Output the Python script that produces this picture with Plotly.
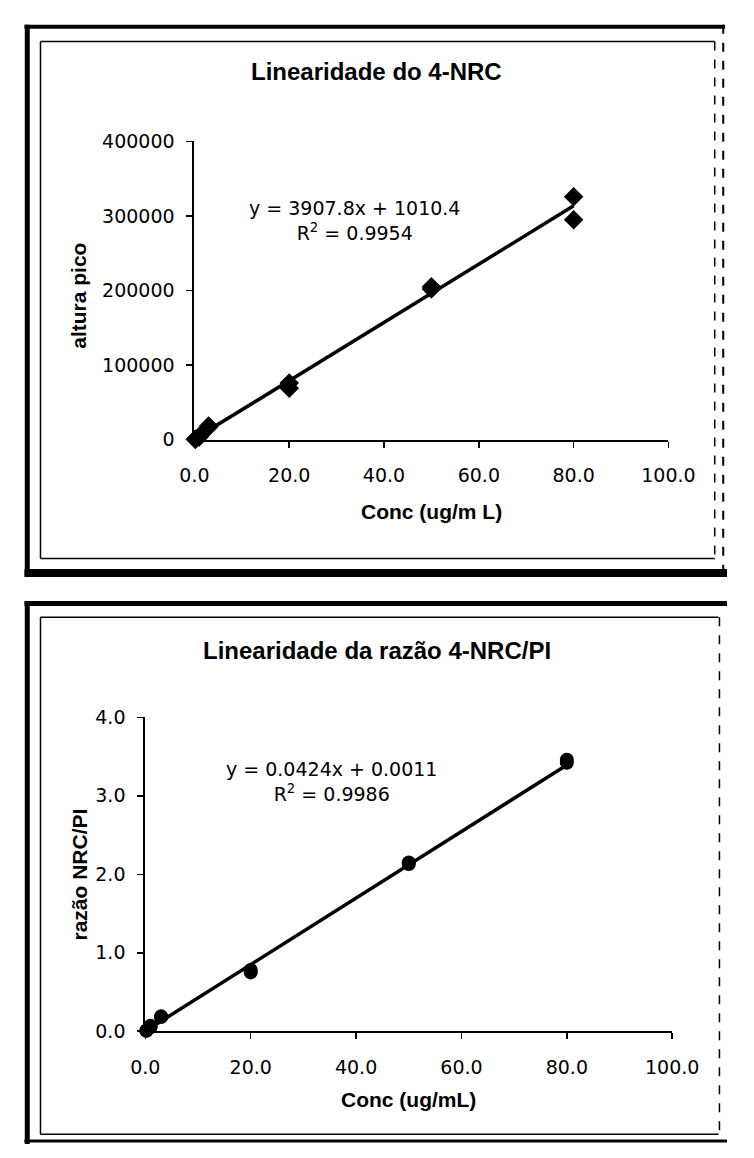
import plotly.graph_objects as go

# ---------------- data ----------------
conc_top = [0.2, 0.2, 1.0, 1.0, 3.0, 3.0, 20.0, 20.0, 50.0, 50.0, 80.0, 80.0]
altura_pico = [500, 700, 3500, 4200, 17000, 18500, 76000, 69000, 205000, 202000, 326000, 295000]
slope_top, intercept_top = 3907.8, 1010.4
eq_top = "y = 3907.8x + 1010.4<br>R<sup>2</sup> = 0.9954"

conc_bot = [0.2, 0.2, 1.0, 1.0, 3.0, 3.0, 20.0, 20.0, 50.0, 50.0, 80.0, 80.0]
razao = [0.005, 0.01, 0.05, 0.07, 0.18, 0.19, 0.75, 0.78, 2.13, 2.15, 3.42, 3.46]
slope_bot, intercept_bot = 0.0424, 0.0011
eq_bot = "y = 0.0424x + 0.0011<br>R<sup>2</sup> = 0.9986"

title_top = "Linearidade do 4-NRC"
title_bot = "Linearidade da razão 4-NRC/PI"
xtitle_top = "Conc (ug/m L)"
xtitle_bot = "Conc (ug/mL)"
ytitle_top = "altura pico"
ytitle_bot = "razão NRC/PI"

x_ticks = [0, 20, 40, 60, 80, 100]
y_ticks_top = [0, 100000, 200000, 300000, 400000]
y_ticks_bot = [0, 1, 2, 3, 4]

W, H = 754, 1158


def px(x):
    return x / W


def py(y):
    return 1 - y / H


fig = go.Figure()

# top chart
xf = [min(conc_top), max(conc_top)]
fig.add_trace(go.Scatter(x=xf, y=[slope_top * v + intercept_top for v in xf], mode="lines",
                         line=dict(color="black", width=3.5), xaxis="x", yaxis="y", showlegend=False))
fig.add_trace(go.Scatter(x=conc_top, y=altura_pico, mode="markers",
                         marker=dict(symbol="diamond", size=15, color="black"),
                         cliponaxis=False, xaxis="x", yaxis="y", showlegend=False))
# bottom chart
xb = [min(conc_bot), max(conc_bot)]
fig.add_trace(go.Scatter(x=xb, y=[slope_bot * v + intercept_bot for v in xb], mode="lines",
                         line=dict(color="black", width=3.5), xaxis="x2", yaxis="y2", showlegend=False))
fig.add_trace(go.Scatter(x=conc_bot, y=razao, mode="markers",
                         marker=dict(symbol="circle", size=14, color="black"),
                         cliponaxis=False, xaxis="x2", yaxis="y2", showlegend=False))

tickfont = dict(family="DejaVu Sans", size=19, color="black")
axis_common = dict(showline=True, linecolor="black", linewidth=2, ticks="outside",
                   ticklen=6, tickwidth=1.5, tickcolor="black", showgrid=False,
                   zeroline=False, tickfont=tickfont)

fig.update_layout(
    width=W, height=H,
    margin=dict(l=0, r=0, t=0, b=0),
    paper_bgcolor="white", plot_bgcolor="white",
    hovermode=False,
    xaxis=dict(domain=[px(190), px(692)], anchor="y", range=[0, 100], tickvals=x_ticks,
               tickformat=".1f", ticklabelstandoff=12, **axis_common),
    yaxis=dict(domain=[py(437), py(133)], anchor="x", range=[0, 400000], tickvals=y_ticks_top,
               tickformat="d", ticklabelstandoff=8, **axis_common),
    xaxis2=dict(domain=[px(138), px(696)], anchor="y2", range=[0, 100], tickvals=x_ticks,
                tickformat=".1f", ticklabelstandoff=12, **axis_common),
    yaxis2=dict(domain=[py(1040), py(720)], anchor="x2", range=[0, 4], tickvals=y_ticks_bot,
                tickformat=".1f", ticklabelstandoff=8, **axis_common),
)

bold = dict(family="Liberation Sans", color="black")
ann = []
ann.append(dict(text="<b>%s</b>" % title_top, x=px(383), y=py(62), font=dict(size=24, **bold)))
ann.append(dict(text="<b>%s</b>" % title_bot, x=px(383), y=py(652), font=dict(size=24, **bold)))
ann.append(dict(text="<b>%s</b>" % xtitle_top, x=px(441), y=py(510), font=dict(size=21, **bold)))
ann.append(dict(text="<b>%s</b>" % xtitle_bot, x=px(417), y=py(1110), font=dict(size=21, **bold)))
ann.append(dict(text="<b>%s</b>" % ytitle_top, x=px(67), y=py(290), textangle=-90, font=dict(size=21, **bold)))
ann.append(dict(text="<b>%s</b>" % ytitle_bot, x=px(68), y=py(880), textangle=-90, font=dict(size=21, **bold)))
ann.append(dict(text=eq_top, x=px(360), y=py(214), font=dict(family="DejaVu Sans", size=19, color="black")))
ann.append(dict(text=eq_bot, x=px(335), y=py(785), font=dict(family="DejaVu Sans", size=19, color="black")))
for a in ann:
    a.update(xref="paper", yref="paper", showarrow=False, xanchor="center", yanchor="middle")
fig.update_layout(annotations=ann)

shapes = []


def line(x0, y0, x1, y1, w, dash="solid"):
    shapes.append(dict(type="line", xref="paper", yref="paper", x0=px(x0), y0=py(y0), x1=px(x1), y1=py(y1),
                       line=dict(color="black", width=w, dash=dash)))


# top chart frames
line(10, 16, 752, 16, 4)
line(13, 14, 13, 577, 5)
line(10, 573, 754, 573, 8)
line(750, 14, 750, 577, 2, "dash")
line(27, 31, 741, 31, 1.5)
line(27, 31, 27, 558, 1.5)
line(27, 558, 741, 558, 1.5)
line(741, 31, 741, 558, 1.5, "dash")
# bottom chart frames
line(10, 604, 754, 604, 5)
line(13, 602, 13, 1155, 5)
line(10, 1152, 754, 1152, 3)
line(27, 618, 745, 618, 1.5)
line(27, 618, 27, 1145, 1.5)
line(27, 1145, 745, 1145, 1.5)
line(746, 618, 746, 1145, 1.5, "dash")
fig.update_layout(shapes=shapes)

fig.write_html(
    "out.html",
    config={"displayModeBar": False, "staticPlot": True},
    post_script="document.body.style.margin='0';document.body.style.padding='0';"
                "document.body.style.overflow='hidden';",
)
